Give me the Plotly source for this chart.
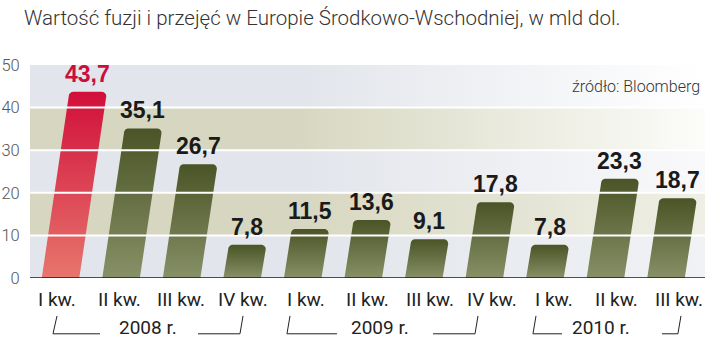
import math
import plotly.graph_objects as go

# ---------------- data ----------------
categories = ["I kw.", "II kw.", "III kw.", "IV kw.",
              "I kw.", "II kw.", "III kw.", "IV kw.",
              "I kw.", "II kw.", "III kw."]
values = [43.7, 35.1, 26.7, 7.8, 11.5, 13.6, 9.1, 17.8, 7.8, 23.3, 18.7]
value_labels = ["43,7", "35,1", "26,7", "7,8", "11,5", "13,6", "9,1", "17,8", "7,8", "23,3", "18,7"]
years = ["2008 r.", "2009 r.", "2010 r."]
y_ticks = [0, 10, 20, 30, 40, 50]
title_text = "Wartość fuzji i przejęć w Europie Środkowo-Wschodniej, w mld dol."
source_text = "źródło: Bloomberg"

# ---------------- layout constants ----------------
X0, X1 = -0.504, 10.644
YMAX = 50
SLANT = 0.0102      # x-units shift per value unit
HW = 0.31           # half bar width (x units)
RX, RY = 0.075, 1.06  # corner radius

GRAY = (226, 229, 235)
OLIVE = (215, 215, 193)
fade_amount = [0.5, 0.6, 0.78, 0.92, 1.0]

def rgb(c):
    return "rgb(%d,%d,%d)" % tuple(int(round(v)) for v in c)

def mix(c, f):
    return tuple(a + (255 - a) * f for a in c)

fig = go.Figure()

# background bands
for j in range(5):
    base = GRAY if j % 2 == 0 else OLIVE
    lo, hi = y_ticks[j], y_ticks[j + 1]
    fig.add_trace(go.Scatter(
        x=[X0, X1, X1, X0, X0], y=[lo, lo, hi, hi, lo],
        fill="toself", mode="none", hoverinfo="skip", showlegend=False,
        fillgradient=dict(type="horizontal", start=X0, stop=X1,
                          colorscale=[[0, rgb(base)], [0.4, rgb(base)],
                                      [1, rgb(mix(base, fade_amount[j]))]]),
    ))

# slanted bars
for i, v in enumerate(values):
    c = i
    xs, ys = [c - HW, c + HW], [0, 0]
    cx, cy = c + HW + SLANT * v - RX, v - RY
    for t in range(0, 91, 10):
        a = math.radians(t)
        xs.append(cx + RX * math.cos(a)); ys.append(cy + RY * math.sin(a))
    cx = c - HW + SLANT * v + RX
    for t in range(90, 181, 10):
        a = math.radians(t)
        xs.append(cx + RX * math.cos(a)); ys.append(cy + RY * math.sin(a))
    xs.append(c - HW); ys.append(0)
    if i == 0:
        cs = [[0, "#e7766d"], [1, "#d10f3a"]]
    else:
        cs = [[0, "#879066"], [1, "#4b5426"]]
    fig.add_trace(go.Scatter(
        x=xs, y=ys, fill="toself", mode="none", hoverinfo="skip", showlegend=False,
        fillgradient=dict(type="vertical", start=0, stop=v, colorscale=cs),
    ))

annotations = []
# value labels
for i, (v, lab) in enumerate(zip(values, value_labels)):
    annotations.append(dict(
        x=i + SLANT * v, y=v, xref="x", yref="y", text="<b>%s</b>" % lab,
        showarrow=False, yanchor="bottom", yshift=3,
        font=dict(family="Liberation Sans", size=23,
                  color="#cc0e3a" if i == 0 else "#1a1a1a"),
    ))
# category labels
for i, lab in enumerate(categories):
    annotations.append(dict(
        x=i * 1.027 - 0.06, y=-0.103, xref="x", yref="paper", text=lab,
        showarrow=False, yanchor="middle",
        font=dict(family="Roboto", size=19, color="#222"),
    ))
# year labels and brackets
year_centers = [1.445, 5.276, 8.926]
brackets = [(-0.124, -0.058, 0.652, 2.271, 2.964, 3.014),
            (3.740, 3.790, 4.566, 6.152, 6.846, 6.895),
            (7.803, 7.853, 8.282, 9.933, 10.197, 10.247)]
shapes = []
YB, YT = -0.262, -0.178
for yc, yl, br in zip(year_centers, years, brackets):
    annotations.append(dict(
        x=yc, y=-0.232, xref="x", yref="paper", text=yl, showarrow=False,
        yanchor="middle", font=dict(family="Roboto", size=19, color="#222"),
    ))
    lb, lt, lh, rh, rb, rt = br
    line = dict(color="#222", width=1)
    shapes.append(dict(type="line", xref="x", yref="paper", x0=lt, y0=YT, x1=lb, y1=YB, line=line))
    shapes.append(dict(type="line", xref="x", yref="paper", x0=lb, y0=YB, x1=lh, y1=YB, line=line))
    shapes.append(dict(type="line", xref="x", yref="paper", x0=rh, y0=YB, x1=rb, y1=YB, line=line))
    shapes.append(dict(type="line", xref="x", yref="paper", x0=rb, y0=YB, x1=rt, y1=YT, line=line))

# white gridlines above bars
for t in y_ticks[1:-1]:
    shapes.append(dict(type="line", xref="paper", yref="y", x0=0, x1=1, y0=t, y1=t,
                       layer="above", line=dict(color="white", width=2)))
# baseline
shapes.append(dict(type="line", xref="paper", yref="y", x0=0, x1=1, y0=0, y1=0,
                   layer="above", line=dict(color="#1a1a1a", width=1.5)))

# source
annotations.append(dict(
    x=0.9956, y=0.897, xref="paper", yref="paper", text=source_text, showarrow=False,
    xanchor="right", yanchor="middle",
    font=dict(family="Roboto", size=16, color="#333", weight=300),
))

fig.update_layout(
    width=720, height=354,
    margin=dict(l=30, r=15, t=65, b=76, autoexpand=False),
    paper_bgcolor="white", plot_bgcolor="white",
    title=dict(text=title_text, xref="container", yref="container",
               x=24 / 720, y=1 - 18 / 354, xanchor="left", yanchor="middle",
               font=dict(family="Roboto", size=20.5, color="#333", weight=300)),
    xaxis=dict(range=[X0, X1], showgrid=False, zeroline=False, showticklabels=False,
               fixedrange=True, automargin=False),
    yaxis=dict(range=[0, YMAX], tickvals=y_ticks, showgrid=False, zeroline=False,
               ticks="outside", ticklen=6, tickcolor="rgba(0,0,0,0)",
               tickfont=dict(family="Roboto", size=16.5, color="#555", weight=300),
               fixedrange=True, automargin=False),
    annotations=annotations,
    shapes=shapes,
    showlegend=False,
)

fig.write_html("out.html")
